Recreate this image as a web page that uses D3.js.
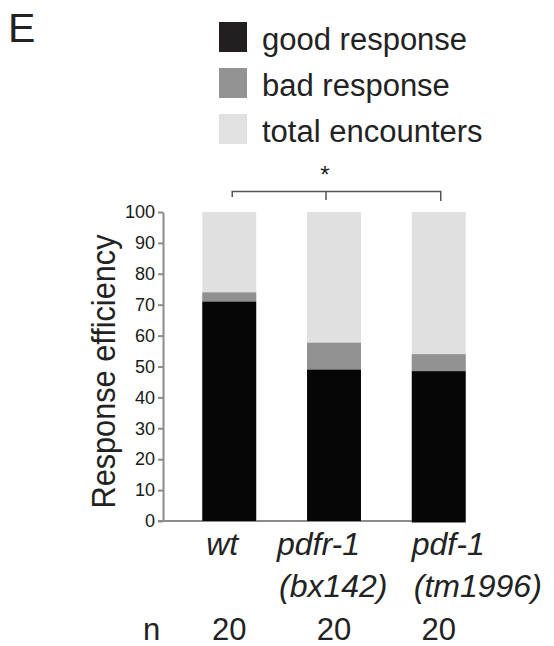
<!DOCTYPE html>
<html>
<head>
<meta charset="utf-8">
<script src="https://cdnjs.cloudflare.com/ajax/libs/d3/7.8.5/d3.min.js"></script>
<style>
  body { margin: 0; background: #fff; }
  svg { display: block; font-family: "Liberation Sans", Arial, sans-serif; }
</style>
</head>
<body>
<div id="chart"></div>
<script>
// data
const categories = ['wt', 'pdfr-1', 'pdf-1'];
const alleles = ['', '(bx142)', '(tm1996)'];
const goodResponse = [71, 49, 48.5];
const badResponse = [3, 8.7, 5.5];
const totalEncounters = [100, 100, 100];
const nValues = [20, 20, 20];
const yTicks = [0, 10, 20, 30, 40, 50, 60, 70, 80, 90, 100];
const legendLabels = ['good response', 'bad response', 'total encounters'];

function drawChart(place) {
    let dimensions = {
        width: 554,
        height: 646,
        left: 163,
        top: 212,
        bottom: 521
    };

    const colors = {
        good: '#060606',
        bad: '#919191',
        total: '#e0e0e0',
        axis: '#8c8c8c'
    };
    const legendColors = ['#231f20', '#939393', '#e1e1e1'];

    const wrapper = d3.select(place);

    let svg = wrapper.append('svg')
        .attr('width', dimensions.width)
        .attr('height', dimensions.height);

    //scales
    let yScale = d3.scaleLinear()
        .domain([0, 100])
        .range([dimensions.bottom, dimensions.top]);

    let xScale = d3.scaleBand()
        .domain(categories)
        .range([dimensions.left, dimensions.left + 342])
        .paddingInner(0.485)
        .paddingOuter(0.375);

    const center = d => xScale(d) + xScale.bandwidth() / 2;

    let rows = categories.map((c, i) => ({
        cat: c,
        good: goodResponse[i],
        bad: badResponse[i],
        total: totalEncounters[i]
    }));

    // x axis line (under the bars)
    svg.append('line')
        .attr('x1', dimensions.left - 5)
        .attr('x2', center(categories[2]) - 5)
        .attr('y1', yScale(0))
        .attr('y2', yScale(0))
        .attr('stroke', colors.axis)
        .attr('stroke-width', 2);

    // bars: total, then bad on top of good, then good
    let bars = svg.append('g');
    bars.selectAll('rect.total').data(rows).join('rect')
        .attr('class', 'total')
        .attr('x', d => xScale(d.cat))
        .attr('width', xScale.bandwidth())
        .attr('y', d => yScale(d.total))
        .attr('height', d => yScale(0) - yScale(d.total))
        .attr('fill', colors.total);

    bars.selectAll('rect.bad').data(rows).join('rect')
        .attr('class', 'bad')
        .attr('x', d => xScale(d.cat))
        .attr('width', xScale.bandwidth())
        .attr('y', d => yScale(d.good + d.bad))
        .attr('height', d => yScale(d.good) - yScale(d.good + d.bad))
        .attr('fill', colors.bad);

    bars.selectAll('rect.good').data(rows).join('rect')
        .attr('class', 'good')
        .attr('x', d => xScale(d.cat))
        .attr('width', xScale.bandwidth())
        .attr('y', d => yScale(d.good))
        .attr('height', (d, i) => yScale(0) - yScale(d.good) + (i == 2 ? 1.5 : 0))
        .attr('fill', colors.good);

    // y axis
    let yAxisGenerator = d3.axisLeft(yScale)
        .tickValues(yTicks)
        .tickSize(5)
        .tickSizeOuter(0)
        .tickPadding(3);

    let yAxis = svg.append('g')
        .attr('transform', `translate(${dimensions.left},0)`)
        .call(yAxisGenerator);
    yAxis.select('.domain')
        .attr('stroke', colors.axis)
        .attr('stroke-width', 2);
    yAxis.selectAll('.tick line')
        .attr('stroke', colors.axis)
        .attr('stroke-width', 2);
    yAxis.selectAll('.tick text')
        .style('font-size', '18px')
        .style('font-family', '"Liberation Sans", Arial, sans-serif')
        .attr('fill', '#1a1a1a');

    // y label
    svg.append('text')
        .attr('transform', `translate(115,${(dimensions.top + dimensions.bottom) / 2 + 5}) rotate(-90)`)
        .attr('text-anchor', 'middle')
        .attr('textLength', 274)
        .attr('lengthAdjust', 'spacingAndGlyphs')
        .style('font-size', '34px')
        .attr('fill', '#222')
        .text('Response efficiency');

    // category labels (italic, left aligned)
    const labelDx = [-23, -57, -27];
    categories.forEach((c, i) => {
        let x = center(c) + labelDx[i];
        svg.append('text')
            .attr('x', x)
            .attr('y', 555)
            .style('font-size', '32px')
            .style('font-style', 'italic')
            .attr('fill', '#222')
            .text(c);
        if (alleles[i]) {
            svg.append('text')
                .attr('x', x + 2)
                .attr('y', 597)
                .style('font-size', '32px')
                .style('font-style', 'italic')
                .attr('fill', '#222')
                .text(alleles[i]);
        }
    });

    // n row
    svg.append('text')
        .attr('x', 143)
        .attr('y', 640)
        .style('font-size', '31px')
        .attr('fill', '#222')
        .text('n');
    svg.selectAll('text.n').data(nValues).join('text')
        .attr('class', 'n')
        .attr('x', (d, i) => center(categories[i]))
        .attr('y', 640)
        .attr('text-anchor', 'middle')
        .style('font-size', '31px')
        .attr('fill', '#222')
        .text(d => d);

    // significance bracket
    let bx1 = center(categories[0]) + 3;
    let bx2 = center(categories[1]) - 8;
    let bx3 = center(categories[2]) + 2;
    let bracket = svg.append('g')
        .attr('stroke', '#555')
        .attr('stroke-width', 1.5)
        .attr('fill', 'none');
    bracket.append('path')
        .attr('d', `M${bx1},197V191.5H${bx3}V201`);
    bracket.append('path')
        .attr('d', `M${bx2},191.5V200`);
    svg.append('text')
        .attr('x', bx2 - 1)
        .attr('y', 183)
        .attr('text-anchor', 'middle')
        .style('font-size', '24px')
        .attr('fill', '#222')
        .text('*');

    // legend
    let legend = svg.append('g');
    legendLabels.forEach((l, i) => {
        legend.append('rect')
            .attr('x', 219)
            .attr('y', 22 + i * 46)
            .attr('width', 28)
            .attr('height', 30)
            .attr('fill', legendColors[i]);
        legend.append('text')
            .attr('x', 262)
            .attr('y', 50 + i * 46)
            .style('font-size', '31px')
            .attr('fill', '#222')
            .text(l);
    });

    // panel letter
    svg.append('text')
        .attr('x', 8)
        .attr('y', 42)
        .style('font-size', '41px')
        .attr('fill', '#222')
        .text('E');
}

drawChart('#chart');
</script>
</body>
</html>
